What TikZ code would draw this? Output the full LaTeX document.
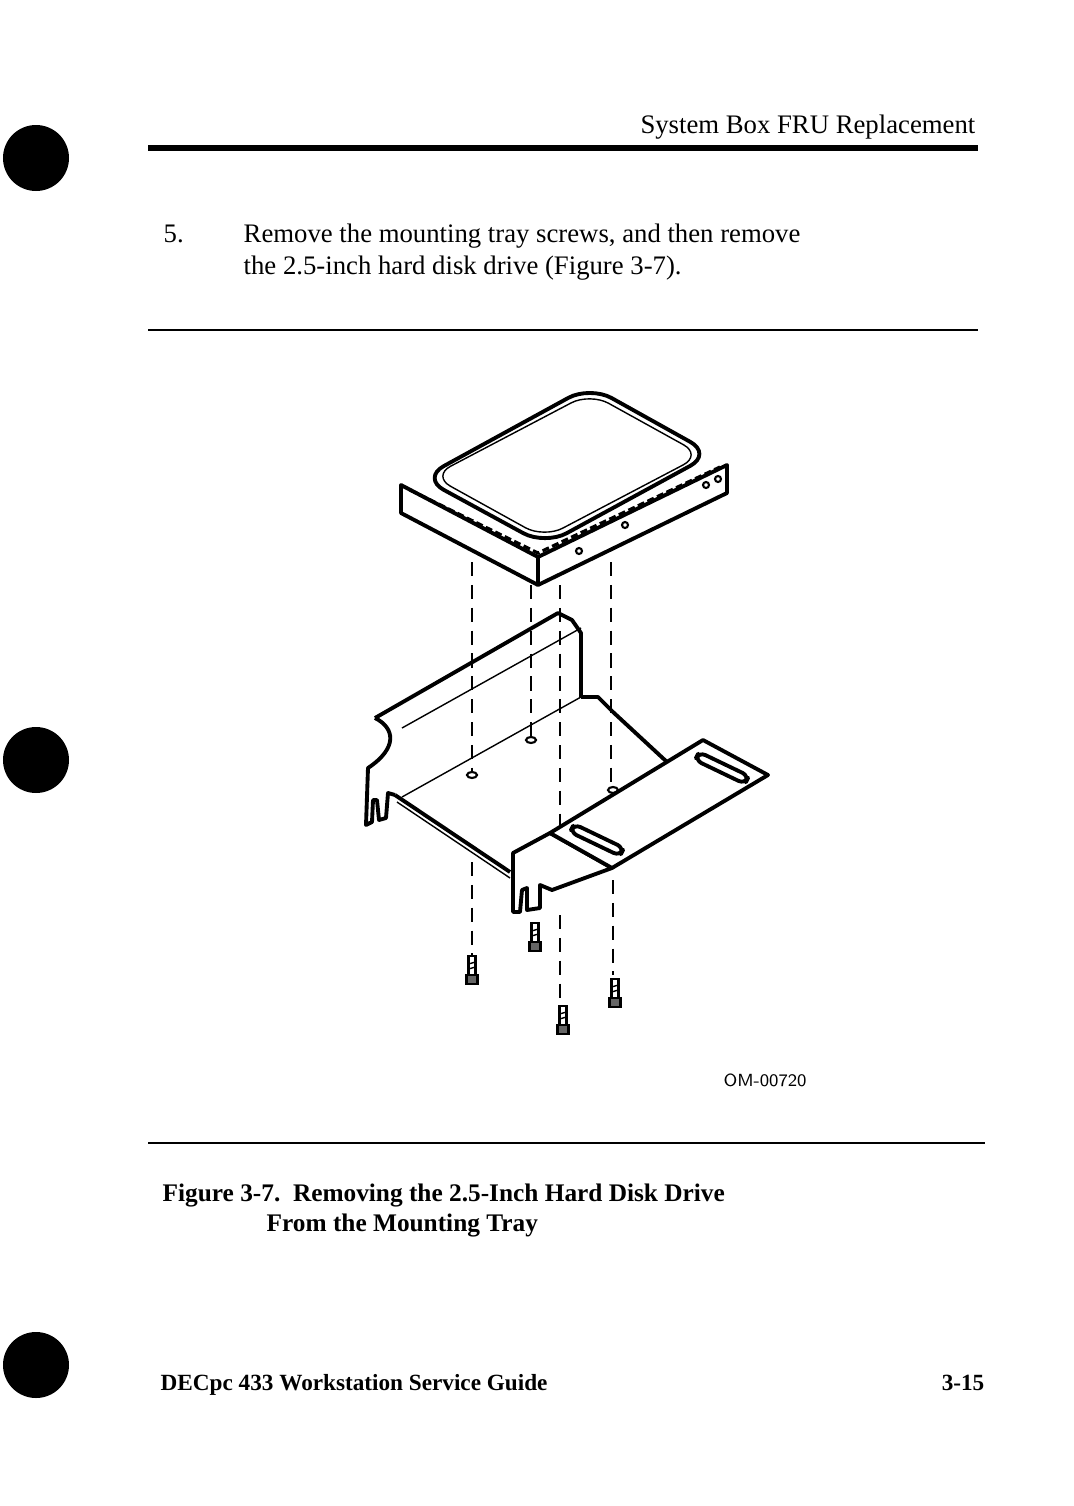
\documentclass[tikz,border=0pt]{standalone}
\usepackage{fontspec}
\setmainfont{Liberation Serif}
\tikzset{
  part/.style={line width=1.1pt, line join=round},
  thin/.style={line width=0.4pt},
  hidden/.style={line width=0.45pt, dash pattern=on 4pt off 2.5pt},
  body/.style={anchor=base west, font=\fontsize{7.6pt}{9pt}\selectfont, inner sep=0pt},
  bodyb/.style={body, font=\fontsize{7.2pt}{9pt}\selectfont\bfseries},
  hole/.style={line width=0.6pt}
}
\newcommand{\screw}[2]{%
  \draw[line width=0.8pt,fill=white] (#1-3.5,#2-14) rectangle (#1+3.5,#2+5);
  \draw[line width=0.8pt,fill=black!60] (#1-5.5,#2+5) rectangle (#1+5.5,#2+14);
  \draw[thin] (#1-3.5,#2-6) -- (#1+3.5,#2-8) (#1-3.5,#2-1) -- (#1+3.5,#2-3);}
\begin{document}
\begin{tikzpicture}[x=0.01cm,y=-0.01cm]
\useasboundingbox (0,0) rectangle (1074,1506);
% punch holes
\foreach \py in {158,760,1365}
  \fill (36,\py) circle (33);
% header
\node[body, anchor=base east] (head) at (976,133) {System Box FRU Replacement};
\fill (148,145) rectangle (978,151);
\node[body] (num) at (163,242) {5.};
\node[body] (step1) at (243,242) {Remove the mounting tray screws, and then remove};
\node[body] (step2) at (243,274) {the 2.5-inch hard disk drive (Figure 3-7).};
\draw[thin] (148,330) -- (978,330);
% drive
\draw[part, fill=white] (401,485) -- (538,557) -- (727,465) -- (727,493) -- (538,585) -- (401,513) -- cycle;
\draw[part] (538,557) -- (538,585);
\draw[part, fill=white, rounded corners=7pt] (422,478) -- (590,386) -- (712,454) -- (545,545) -- cycle;
\draw[thin, rounded corners=6pt] (432,476) -- (590,393) -- (702,455) -- (544,538) -- cycle;
\draw[line width=0.9pt, dash pattern=on 2pt off 1pt] (410,490) -- (538,553) -- (720,467);
\foreach \hx/\hy in {579/551,625/525,706/485,718/479}
  \draw[hole] (\hx,\hy) circle (3);
% tray
\draw[part] (375,718) -- (558,613) -- (572,620) -- (581,633) -- (581,697);
\draw[part] (375,718) .. controls (395,728) and (398,748) .. (368,768) -- (366,825) -- (372,822) -- (373,800) -- (377,800) -- (379,820) -- (386,818) -- (388,793) -- (395,795);
\draw[part] (395,795) -- (510,872);
\draw[thin] (397,802) -- (510,878);
\draw[thin] (402,728) -- (581,628);
\draw[thin] (402,797) -- (581,697);
\draw[part] (581,697) -- (598,697) -- (613,712) -- (667,762);
% front wall and tab
\draw[part, fill=white] (513,853) -- (550,833) -- (612,868) -- (552,890) -- (540,885) -- (540,908) -- (527,910) -- (527,888) -- (522,890) -- (520,912) -- (513,912) -- cycle;
\draw[part, fill=white] (550,833) -- (703,740) -- (768,775) -- (612,868) -- cycle;
\draw[part, rounded corners=2pt] (699,752) -- (749,776) -- (745,784) -- (695,760) -- cycle;
\draw[part, rounded corners=2pt] (574,824) -- (624,848) -- (620,856) -- (570,832) -- cycle;
\foreach \hx/\hy in {472/775,531/740,613/790}
  \draw[hole] (\hx,\hy) ellipse (5 and 3);
% dashed paths
\draw[hidden] (472,562) -- (472,772);
\draw[hidden] (531,585) -- (531,737);
\draw[hidden] (560,585) -- (560,830);
\draw[hidden] (611,562) -- (611,787);
\draw[hidden] (472,862) -- (472,955);
\draw[hidden] (560,915) -- (560,1005);
\draw[hidden] (613,880) -- (613,975);
% screws
\screw{472}{970}
\screw{535}{937}
\screw{615}{993}
\screw{563}{1020}
\node[font=\fontsize{5pt}{6pt}\sffamily, inner sep=0pt] (om) at (765,1080) {OM-00720};
\draw[thin] (148,1143) -- (985,1143);
% caption
\node[bodyb] (cap1) at (162,1201) {Figure 3-7.\ \ Removing the 2.5-Inch Hard Disk Drive};
\node[bodyb] (cap2) at (266,1231) {From the Mounting Tray};
\node[bodyb, font=\fontsize{6.6pt}{8pt}\selectfont\bfseries] (foot) at (160,1390) {DECpc 433 Workstation Service Guide};
\node[bodyb, font=\fontsize{6.6pt}{8pt}\selectfont\bfseries, anchor=base east] (page) at (985,1390) {3-15};
\end{tikzpicture}
\end{document}
